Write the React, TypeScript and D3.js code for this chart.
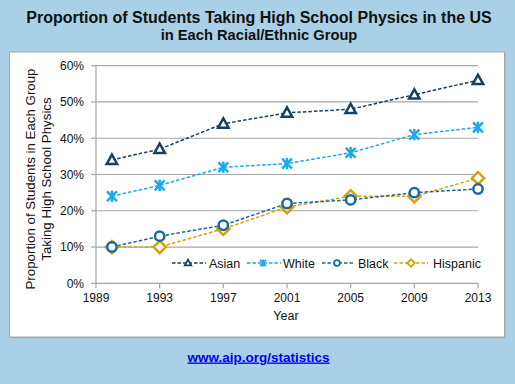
import React from "react";
import * as d3 from "d3";

const years = [1990, 1993, 1997, 2001, 2005, 2009, 2013];
const asian = [34, 37, 44, 47, 48, 52, 56];
const white = [24, 27, 32, 33, 36, 41, 43];
const black = [10, 13, 16, 22, 23, 25, 26];
const hispanic = [10, 10, 15, 21, 24, 24, 29];
const xTicks = [1989, 1993, 1997, 2001, 2005, 2009, 2013];
const yTicks = [0, 10, 20, 30, 40, 50, 60];
const seriesNames = ["Asian", "White", "Black", "Hispanic"];

const W = 515;
const H = 384;
const FONT = "'Liberation Sans', Arial, sans-serif";

const colors: Record<string, string> = {
  Asian: "#17405f",
  White: "#1aa9ec",
  Black: "#1a6a9c",
  Hispanic: "#d6a20c",
};

function Marker({ type, x, y, s }: { type: string; x: number; y: number; s: number }) {
  const c = colors[type];
  const sw = s > 8 ? 2.5 : 1.8;
  if (type === "Asian") {
    const pts = [
      [x, y - s * 0.42],
      [x + s * 0.4, y + s * 0.3],
      [x - s * 0.4, y + s * 0.3],
    ];
    return (
      <polygon
        points={pts.map((p) => p.join(",")).join(" ")}
        fill="#fff"
        stroke={c}
        strokeWidth={sw}
        strokeLinejoin="miter"
      />
    );
  }
  if (type === "White") {
    const r = s * 0.38;
    return (
      <g stroke={c} strokeWidth={sw}>
        <line x1={x - r} y1={y - r} x2={x + r} y2={y + r} />
        <line x1={x - r} y1={y + r} x2={x + r} y2={y - r} />
        <line x1={x} y1={y - r * 1.15} x2={x} y2={y + r * 1.15} />
      </g>
    );
  }
  if (type === "Black") {
    return <circle cx={x} cy={y} r={s * 0.36} fill="#fff" stroke={c} strokeWidth={sw} />;
  }
  const r = s * 0.47;
  return (
    <polygon
      points={`${x},${y - r} ${x + r},${y} ${x},${y + r} ${x - r},${y}`}
      fill="#fff"
      stroke={c}
      strokeWidth={sw}
    />
  );
}

export default function App() {
  const x = d3.scaleLinear().domain([1989, 2013]).range([96, 478]);
  const y = d3.scaleLinear().domain([0, 60]).range([283.3, 65.7]);
  const data: Record<string, number[]> = {
    Asian: asian,
    White: white,
    Black: black,
    Hispanic: hispanic,
  };
  const line = d3
    .line<[number, number]>()
    .x((d) => x(d[0]))
    .y((d) => y(d[1]));

  const drawOrder = ["Hispanic", "Black", "White", "Asian"];
  const legendItems = [
    { name: "Asian", x0: 172, mx: 188, x1: 206, tx: 209 },
    { name: "White", x0: 247, mx: 263, x1: 281, tx: 283 },
    { name: "Black", x0: 322, mx: 337, x1: 354, tx: 358 },
    { name: "Hispanic", x0: 394, mx: 411, x1: 428, tx: 433 },
  ];
  const legendY = 263;

  return (
    <svg
      width={W}
      height={H}
      style={{ position: "fixed", left: 0, top: 0, display: "block" }}
      fontFamily={FONT}
    >
      <rect x={0} y={0} width={W} height={H} fill="#a9d0e7" />
      <rect x={10.5} y={53} width={495} height={285} fill="#9aa4aa" />
      <rect x={9.5} y={52} width={495} height={285} fill="#ffffff" stroke="#a8a8a8" strokeWidth={1} />

      <text x={259} y={22.5} textAnchor="middle" fontSize={16} fontWeight="bold" fill="#111">
        Proportion of Students Taking High School Physics in the US
      </text>
      <text x={259} y={40} textAnchor="middle" fontSize={14.7} fontWeight="bold" fill="#111">
        in Each Racial/Ethnic Group
      </text>

      {/* gridlines */}
      {yTicks.map((t) => (
        <g key={t}>
          {t > 0 && (
            <line x1={96} x2={478} y1={y(t)} y2={y(t)} stroke="#a6a6a6" strokeWidth={1.2} />
          )}
          <line x1={91} x2={96} y1={y(t)} y2={y(t)} stroke="#a6a6a6" strokeWidth={1.2} />
          <text x={84} y={y(t) + 4.3} textAnchor="end" fontSize={12} fill="#111">
            {t}%
          </text>
        </g>
      ))}
      {/* axes */}
      <line x1={96} x2={96} y1={y(60)} y2={y(0)} stroke="#a6a6a6" strokeWidth={1.2} />
      <line x1={96} x2={478} y1={y(0)} y2={y(0)} stroke="#a6a6a6" strokeWidth={1.2} />
      {xTicks.map((t) => (
        <g key={t}>
          <line x1={x(t)} x2={x(t)} y1={y(0)} y2={y(0) + 5} stroke="#a6a6a6" strokeWidth={1.2} />
          <text x={x(t)} y={302} textAnchor="middle" fontSize={12} fill="#111">
            {t}
          </text>
        </g>
      ))}
      <text x={286} y={320} textAnchor="middle" fontSize={12.5} fill="#111">
        Year
      </text>
      <g transform="translate(38,179) rotate(-90)">
        <text x={0} y={-3} textAnchor="middle" fontSize={13.3} fill="#111">
          Proportion of Students in Each Group
        </text>
        <text x={0} y={13} textAnchor="middle" fontSize={13.3} fill="#111">
          Taking High School Physics
        </text>
      </g>

      {/* series */}
      {drawOrder.map((name) => {
        const pts = years.map((yr, i) => [yr, data[name][i]] as [number, number]);
        return (
          <g key={name}>
            <path
              d={line(pts) || ""}
              fill="none"
              stroke={colors[name]}
              strokeWidth={1.5}
              strokeDasharray="3.5,2"
            />
          </g>
        );
      })}
      {drawOrder.map((name) =>
        years.map((yr, i) => (
          <Marker key={name + yr} type={name} x={x(yr)} y={y(data[name][i])} s={13} />
        ))
      )}

      {/* legend */}
      {legendItems.map((it) => (
        <g key={it.name}>
          <line
            x1={it.x0}
            x2={it.x1}
            y1={legendY}
            y2={legendY}
            stroke={colors[it.name]}
            strokeWidth={1.5}
            strokeDasharray="3.5,2"
          />
          <Marker type={it.name} x={it.mx} y={legendY} s={8} />
          <text x={it.tx} y={legendY + 4.5} fontSize={12.5} fill="#111">
            {it.name}
          </text>
        </g>
      ))}

      <a href="http://www.aip.org/statistics">
        <text x={258.5} y={361.5} textAnchor="middle" fontSize={13.5} fontWeight="bold" fill="#0000ee" textDecoration="underline">
          www.aip.org/statistics
        </text>
      </a>
    </svg>
  );
}
